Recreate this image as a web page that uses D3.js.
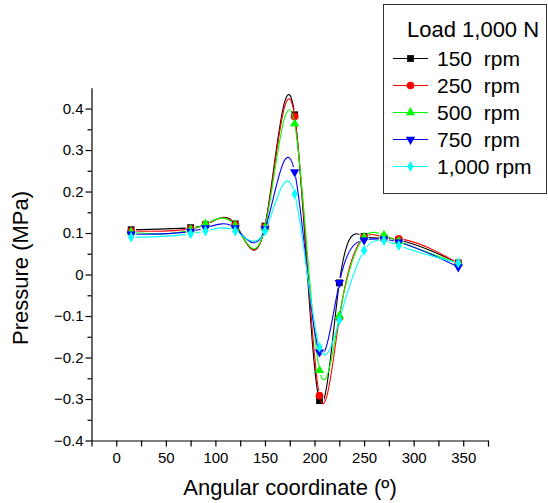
<!DOCTYPE html>
<html>
<head>
<meta charset="utf-8">
<script src="https://cdn.jsdelivr.net/npm/d3@7"></script>
<style>
  html, body { margin: 0; padding: 0; background: #fff; }
  svg { display: block; font-family: "Liberation Sans", Arial, sans-serif; }
</style>
</head>
<body>
<svg id="chart" width="548" height="503"></svg>
<script>
// ---- data ----
const angles = [15, 75, 90, 120, 150, 180, 205, 225, 250, 270, 285, 345];
const p150  = [0.108, 0.113, 0.120, 0.122, 0.117, 0.385, -0.304, -0.020, 0.092, 0.088, 0.083, 0.028];
const p250  = [0.105, 0.110, 0.120, 0.120, 0.115, 0.381, -0.292, -0.105, 0.090, 0.090, 0.086, 0.027];
const p500  = [0.102, 0.108, 0.122, 0.118, 0.113, 0.363, -0.231, -0.100, 0.090, 0.095, 0.080, 0.027];
const p750  = [0.097, 0.104, 0.112, 0.112, 0.110, 0.247, -0.187, -0.020, 0.083, 0.085, 0.078, 0.018];
const p1000 = [0.090, 0.098, 0.105, 0.105, 0.105, 0.194, -0.175, -0.110, 0.058, 0.082, 0.070, 0.028];
const seriesNames = ["150  rpm", "250  rpm", "500  rpm", "750  rpm", "1,000 rpm"];
const seriesValues = [p150, p250, p500, p750, p1000];
const legendTitle = "Load 1,000 N";
const xTicks = [0, 50, 100, 150, 200, 250, 300, 350];
const xMinorTicks = [-25, 25, 75, 125, 175, 225, 275, 325, 375];
const yTicks = [-0.4, -0.3, -0.2, -0.1, 0, 0.1, 0.2, 0.3, 0.4];
const yMinorTicks = [-0.35, -0.25, -0.15, -0.05, 0.05, 0.15, 0.25, 0.35];
const xTitle = "Angular coordinate (º)";
const yTitle = "Pressure (MPa)";

// ---- styles ----
const colors = ["#000000", "#ff0000", "#00ff00", "#0000ff", "#00ffff"];
const symbolDefs = [
  { type: d3.symbolSquare, size: 46, rot: 0 },
  { type: d3.symbolCircle, size: 46, rot: 0 },
  { type: d3.symbolTriangle, size: 38, rot: 0 },
  { type: d3.symbolTriangle, size: 38, rot: 180 },
  { type: d3.symbolDiamond, size: 34, rot: 0 }
];

// natural cubic spline in x (function spline y(x)), emitted as bezier segments
function NaturalX(context) { this._context = context; }
NaturalX.prototype = {
  areaStart() { this._line = 0; },
  areaEnd() { this._line = NaN; },
  lineStart() { this._x = []; this._y = []; },
  point(x, y) { this._x.push(+x); this._y.push(+y); },
  lineEnd() {
    const x = this._x, y = this._y, n = x.length, c = this._context;
    if (!n) return;
    c.moveTo(x[0], y[0]);
    if (n === 2) { c.lineTo(x[1], y[1]); return; }
    const h = [], M = new Array(n).fill(0);
    for (let i = 0; i < n - 1; i++) h[i] = x[i + 1] - x[i];
    const a = [], b = [], cc = [], d = [];
    for (let i = 1; i < n - 1; i++) {
      a[i] = h[i - 1]; b[i] = 2 * (h[i - 1] + h[i]); cc[i] = h[i];
      d[i] = 6 * ((y[i + 1] - y[i]) / h[i] - (y[i] - y[i - 1]) / h[i - 1]);
    }
    for (let i = 2; i < n - 1; i++) {
      const w = a[i] / b[i - 1];
      b[i] -= w * cc[i - 1]; d[i] -= w * d[i - 1];
    }
    M[n - 2] = d[n - 2] / b[n - 2];
    for (let i = n - 3; i >= 1; i--) M[i] = (d[i] - cc[i] * M[i + 1]) / b[i];
    for (let i = 0; i < n - 1; i++) {
      const s = (y[i + 1] - y[i]) / h[i];
      const m0 = s - h[i] * (2 * M[i] + M[i + 1]) / 6;
      const m1 = s + h[i] * (M[i] + 2 * M[i + 1]) / 6;
      c.bezierCurveTo(x[i] + h[i] / 3, y[i] + m0 * h[i] / 3,
                      x[i + 1] - h[i] / 3, y[i + 1] - m1 * h[i] / 3,
                      x[i + 1], y[i + 1]);
    }
  }
};
const curveNaturalX = ctx => new NaturalX(ctx);

// ---- scales ----
const svg = d3.select("#chart");
const x = d3.scaleLinear().domain([-25, 375]).range([91.5, 488]);
const y = d3.scaleLinear().domain([-0.4, 0.45]).range([440.5, 87.8]);

// ---- axes ----
const fmtY = d => (Math.abs(d) < 1e-9 ? "0" : d3.format(".1f")(d));
const gx = svg.append("g").attr("transform", "translate(0,440.5)")
  .call(d3.axisBottom(x).tickValues(xTicks).tickSize(6).tickSizeOuter(0).tickPadding(6).tickFormat(d3.format("d")));
svg.append("g").attr("transform", "translate(0,440.5)")
  .call(d3.axisBottom(x).tickValues(xMinorTicks).tickSize(6).tickSizeOuter(0).tickFormat(""))
  .select(".domain").remove();
const gy = svg.append("g").attr("transform", "translate(91.5,0)")
  .call(d3.axisLeft(y).tickValues(yTicks).tickSize(6).tickSizeOuter(0).tickPadding(2).tickFormat(fmtY));
svg.append("g").attr("transform", "translate(91.5,0)")
  .call(d3.axisLeft(y).tickValues(yMinorTicks).tickSize(4).tickSizeOuter(0).tickFormat(""))
  .select(".domain").remove();
svg.selectAll(".domain, .tick line").attr("stroke", "#000").attr("stroke-width", 1.2);
svg.selectAll(".tick text").attr("font-family", "'Liberation Sans', Arial, sans-serif")
  .attr("font-size", 15).attr("fill", "#000");

svg.append("text").attr("x", 290).attr("y", 495).attr("text-anchor", "middle")
  .attr("font-size", 22).text(xTitle);
svg.append("text").attr("transform", "translate(28,268) rotate(-90)").attr("text-anchor", "middle")
  .attr("font-size", 22).text(yTitle);

// ---- masks for gaps around markers ----
const defs = svg.append("defs");
seriesValues.forEach((vals, i) => {
  const m = defs.append("mask").attr("id", "gap" + i).attr("maskUnits", "userSpaceOnUse")
    .attr("x", 0).attr("y", 0).attr("width", 548).attr("height", 503);
  m.append("rect").attr("x", 0).attr("y", 0).attr("width", 548).attr("height", 503).attr("fill", "#fff");
  m.selectAll("circle").data(angles).join("circle")
    .attr("cx", (a) => x(a)).attr("cy", (a, j) => y(vals[j])).attr("r", 5).attr("fill", "#000");
});

// ---- series ----
const line = d3.line().x(d => x(d[0])).y(d => y(d[1])).curve(curveNaturalX);
seriesValues.forEach((vals, i) => {
  const pts = angles.map((a, j) => [a, vals[j]]);
  const g = svg.append("g");
  g.append("path").attr("d", line(pts)).attr("fill", "none").attr("stroke", colors[i])
    .attr("stroke-width", 1.1).attr("mask", `url(#gap${i})`);
  const sd = symbolDefs[i];
  g.selectAll("path.pt").data(pts).join("path").attr("class", "pt")
    .attr("d", d3.symbol().type(sd.type).size(sd.size))
    .attr("transform", d => `translate(${x(d[0])},${y(d[1])}) rotate(${sd.rot})`)
    .attr("fill", colors[i]);
});

// ---- legend ----
const lg = svg.append("g");
lg.append("rect").attr("x", 383.5).attr("y", 4.5).attr("width", 163).attr("height", 189)
  .attr("fill", "#fff").attr("stroke", "#333").attr("stroke-width", 1);
lg.append("text").attr("x", 407).attr("y", 36.5).attr("font-size", 22).text(legendTitle);
seriesNames.forEach((name, i) => {
  const cy = 58.5 + i * 27;
  lg.append("line").attr("x1", 393).attr("x2", 428).attr("y1", cy).attr("y2", cy)
    .attr("stroke", colors[i]).attr("stroke-width", 1.1);
  const sd = symbolDefs[i];
  lg.append("path").attr("d", d3.symbol().type(sd.type).size(sd.size)())
    .attr("transform", `translate(410.5,${cy}) rotate(${sd.rot})`).attr("fill", colors[i]);
  lg.append("text").attr("x", 437).attr("y", cy + 7.5).attr("font-size", 21)
    .attr("xml:space", "preserve").style("white-space", "pre").text(name);
});
</script>
</body>
</html>
